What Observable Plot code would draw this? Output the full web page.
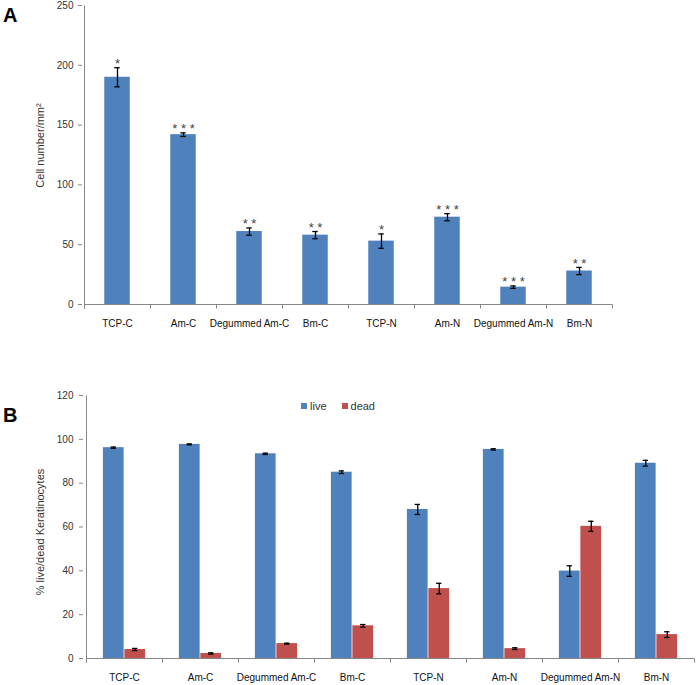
<!DOCTYPE html>
<html>
<head>
<meta charset="utf-8">
<script src="https://cdn.jsdelivr.net/npm/d3@7"></script>
<script src="https://cdn.jsdelivr.net/npm/@observablehq/plot@0.6"></script>
<style>
  body { margin: 0; background: #fff; font-family: "Liberation Sans", Arial, sans-serif; }
  #wrap { position: relative; width: 700px; height: 685px; overflow: hidden; background: #fff; }
  .panel { position: absolute; left: 0; }
  .letter { position: absolute; font-weight: bold; font-size: 20px; line-height: 20px; color: #000; }
  #legend { position: absolute; left: 301px; top: 399px; display: flex; align-items: center; font-size: 11px; line-height: 14px; color: #333; }
  #legend .sw { display: inline-block; width: 6px; height: 6px; margin-right: 3px; }
  #legend .item { display: flex; align-items: center; margin-right: 15px; }
</style>
</head>
<body>
<div id="wrap">
  <div id="chartA" class="panel" style="top:0px"></div>
  <div id="chartB" class="panel" style="top:340px"></div>
  <div class="letter" style="left:3px;top:5px">A</div>
  <div class="letter" style="left:3px;top:405px">B</div>
  <div id="legend"></div>
</div>
<script>
// ---- data ----
const groups = ["TCP-C", "Am-C", "Degummed Am-C", "Bm-C", "TCP-N", "Am-N", "Degummed Am-N", "Bm-N"];
const cellNumber = [190, 142, 61, 58, 53, 73, 14.5, 28];
const cellNumberErr = [8, 1.5, 3, 3, 6, 3, 1, 3];
const significance = ["*", "***", "**", "**", "*", "***", "***", "**"];
const series = ["live", "dead"];
const liveValues = [96.2, 97.7, 93.4, 85.0, 68.0, 95.4, 39.9, 89.1];
const liveErr = [0.3, 0.2, 0.3, 0.6, 2.3, 0.3, 2.4, 1.3];
const deadValues = [4.1, 2.3, 6.8, 14.9, 31.9, 4.5, 60.3, 10.9];
const deadErr = [0.5, 0.3, 0.2, 0.6, 2.4, 0.4, 2.3, 1.3];
const yTicksA = [0, 50, 100, 150, 200, 250];
const yTicksB = [0, 20, 40, 60, 80, 100, 120];
const labelA = "Cell number/mm²";
const labelB = "% live/dead Keratinocytes";

const seriesColors = ["#4F81BD", "#C0504D"];
const axisGrey = "#868686";
const textColor = "#333";
const font = "'Liberation Sans', Arial, sans-serif";

// Excel-like axis lines with tick marks at category boundaries
function excelAxes(tickLen) {
  return (index, scales) => {
    const x = scales.x, y = scales.y;
    const bw = typeof x.bandwidth === "function" ? x.bandwidth() : x.bandwidth;
    const dom = x.domain();
    const ydom = y.domain();
    const y0 = Math.round(y(0)) + 0.5;
    const yTop = Math.round(y(ydom[ydom.length - 1])) + 0.5;
    const xs = dom.map(d => x(d)).concat([x(dom[dom.length - 1]) + bw]).map(v => Math.round(v) + 0.5);
    const g = d3.create("svg:g").attr("stroke", axisGrey).attr("stroke-width", 1).attr("fill", "none");
    g.append("line").attr("x1", xs[0]).attr("x2", xs[xs.length - 1]).attr("y1", y0).attr("y2", y0);
    g.append("line").attr("x1", xs[0]).attr("x2", xs[0]).attr("y1", y0 + tickLen).attr("y2", yTop);
    for (const b of xs) g.append("line").attr("x1", b).attr("x2", b).attr("y1", y0).attr("y2", y0 + tickLen);
    return g.node();
  };
}

// ---- chart A ----
const tableA = groups.map((g, i) => ({ group: g, value: cellNumber[i], err: cellNumberErr[i], sig: significance[i] }));
const A = { width: 700, height: 340, ml: 82, mr: 86, mt: 5, mb: 36 };
const bwA = (A.width - A.ml - A.mr) / groups.length;
const barWA = 26, capW = 6;
const chartA = Plot.plot({
  width: A.width, height: A.height,
  marginLeft: A.ml, marginRight: A.mr, marginTop: A.mt, marginBottom: A.mb,
  style: { fontFamily: font, fontSize: "10px", background: "#fff", color: textColor },
  x: { domain: groups, padding: 0 },
  y: { domain: [0, 250] },
  marks: [
    Plot.barY(tableA, { x: "group", y: "value", fill: seriesColors[0], insetLeft: (bwA - barWA) / 2, insetRight: (bwA - barWA) / 2 }),
    Plot.ruleX(tableA, { x: "group", y1: d => d.value - d.err, y2: d => d.value + d.err, stroke: "#000", strokeWidth: 1.3 }),
    Plot.tickY(tableA, { x: "group", y: d => d.value + d.err, stroke: "#000", strokeWidth: 1.3, insetLeft: (bwA - capW) / 2, insetRight: (bwA - capW) / 2 }),
    Plot.tickY(tableA, { x: "group", y: d => d.value - d.err, stroke: "#000", strokeWidth: 1.3, insetLeft: (bwA - capW) / 2, insetRight: (bwA - capW) / 2 }),
    Plot.text(tableA, { x: "group", y: d => d.value + d.err, text: d => d.sig.split("").join(" "), dy: -4, fontSize: 13, fill: "#444" }),
    excelAxes(4),
    Plot.axisY({ ticks: yTicksA, tickSize: 4, tickPadding: 5, stroke: axisGrey, fill: textColor, fontSize: 10, label: null }),
    Plot.axisX({ tickSize: 0, tickPadding: 15, fill: "#111", fontSize: 10, label: null }),
    Plot.text([labelA], { text: d => d, frameAnchor: "left", textAnchor: "middle", lineAnchor: "middle", rotate: -90, dx: -42, dy: -9.5, fontSize: 11, fill: textColor })
  ]
});
document.getElementById("chartA").appendChild(chartA);

// ---- chart B ----
const tableB = groups.flatMap((g, i) => [
  { group: g, series: series[0], value: liveValues[i], err: liveErr[i] },
  { group: g, series: series[1], value: deadValues[i], err: deadErr[i] }
]);
const B = { width: 700, height: 345, ml: 83, mr: 3, mt: 55, mb: 27 };
const bwB = (B.width - B.ml - B.mr) / groups.length;
const barWB = 21.5;
const liveData = tableB.filter(d => d.series === series[0]);
const deadData = tableB.filter(d => d.series === series[1]);
const liveCenter = bwB / 2 - barWB / 2, deadCenter = bwB / 2 + barWB / 2;
const capMarks = (data, center) => [
  Plot.ruleX(data, { x: "group", y1: d => d.value - d.err, y2: d => d.value + d.err, stroke: "#000", strokeWidth: 1.3, dx: center - bwB / 2 }),
  Plot.tickY(data, { x: "group", y: d => d.value + d.err, stroke: "#000", strokeWidth: 1.3, insetLeft: center - capW / 2, insetRight: bwB - center - capW / 2 }),
  Plot.tickY(data, { x: "group", y: d => d.value - d.err, stroke: "#000", strokeWidth: 1.3, insetLeft: center - capW / 2, insetRight: bwB - center - capW / 2 })
];
const chartB = Plot.plot({
  width: B.width, height: B.height,
  marginLeft: B.ml, marginRight: B.mr, marginTop: B.mt, marginBottom: B.mb,
  style: { fontFamily: font, fontSize: "10px", background: "#fff", color: textColor },
  x: { domain: groups, padding: 0 },
  y: { domain: [0, 120] },
  color: { domain: series, range: seriesColors },
  marks: [
    Plot.barY(liveData, { x: "group", y: "value", fill: "series", insetLeft: bwB / 2 - barWB, insetRight: bwB / 2 }),
    Plot.barY(deadData, { x: "group", y: "value", fill: "series", insetLeft: bwB / 2, insetRight: bwB / 2 - barWB }),
    ...capMarks(liveData, liveCenter),
    ...capMarks(deadData, deadCenter),
    excelAxes(4),
    Plot.axisY({ ticks: yTicksB, tickSize: 4, tickPadding: 6, stroke: axisGrey, fill: textColor, fontSize: 10, label: null }),
    Plot.axisX({ tickSize: 0, tickPadding: 15, fill: "#111", fontSize: 10, label: null }),
    Plot.text([labelB], { text: d => d, frameAnchor: "left", textAnchor: "middle", lineAnchor: "middle", rotate: -90, dx: -43, dy: 5, fontSize: 11, fill: textColor })
  ]
});
document.getElementById("chartB").appendChild(chartB);

// ---- legend ----
const legend = d3.select("#legend");
series.forEach((s, i) => {
  const item = legend.append("span").attr("class", "item");
  item.append("span").attr("class", "sw").style("background", seriesColors[i]);
  item.append("span").text(s);
});
</script>
</body>
</html>
